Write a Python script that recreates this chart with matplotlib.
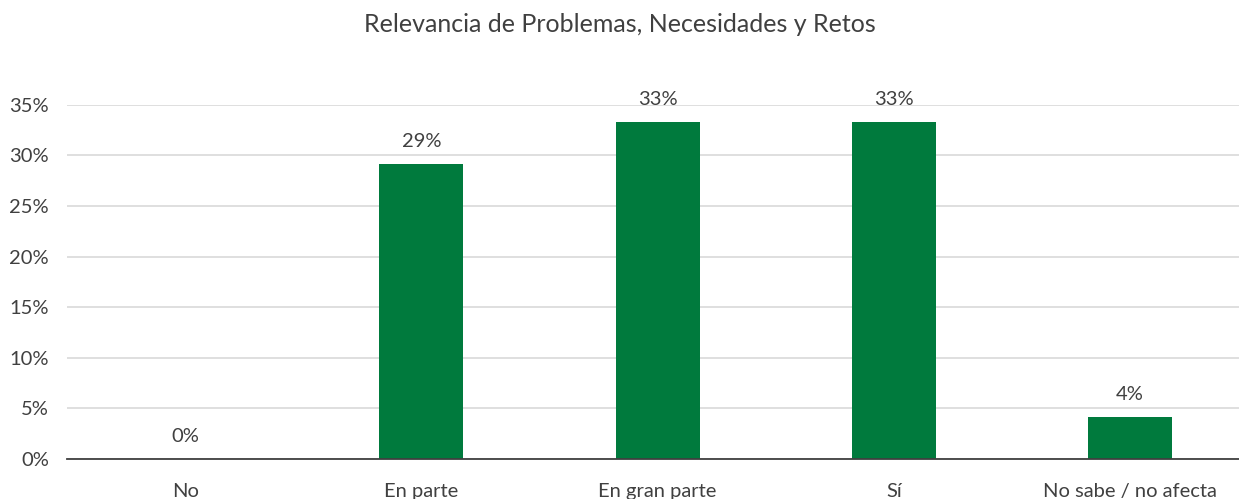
import matplotlib
matplotlib.use("Agg")
import matplotlib.pyplot as plt
from matplotlib.ticker import FuncFormatter

categories = ["No", "En parte", "En gran parte", "Sí", "No sabe / no afecta"]
values = [0.0, 29.17, 33.33, 33.33, 4.17]
yticks = [0, 5, 10, 15, 20, 25, 30, 35]
title = "Relevancia de Problemas, Necesidades y Retos"

text_color = "#404040"
bar_color = "#007A3D"

plt.rcParams["font.family"] = ["Lato", "DejaVu Sans"]

fig = plt.figure(figsize=(12.39, 4.99), dpi=100)
ax = fig.add_axes([0.0541, 0.0802, 0.9534, 0.7098])

x = list(range(len(categories)))
bars = ax.bar(x, values, width=0.355, color=bar_color, zorder=3)

for xi, v in zip(x, values):
    ax.annotate(f"{v:.0f}%", (xi, v), xytext=(0, 10), textcoords="offset points",
                ha="center", va="bottom", fontsize=14.5, color=text_color)

ax.set_xlim(-0.5, len(categories) - 0.5)
ax.set_ylim(0, 35)
ax.set_yticks(yticks)
ax.yaxis.set_major_formatter(FuncFormatter(lambda v, p: f"{v:.0f}%"))
ax.set_xticks(x)
ax.set_xticklabels(categories)
ax.tick_params(axis="x", length=0, pad=17, labelsize=14.5, colors=text_color)
ax.tick_params(axis="y", length=0, pad=13, labelsize=14.5, colors=text_color)

ax.grid(axis="y", color="#d9d9d9", linewidth=1.2, zorder=0)
for s in ["top", "right", "left"]:
    ax.spines[s].set_visible(False)
ax.spines["bottom"].set_color(text_color)
ax.spines["bottom"].set_linewidth(1.3)
ax.spines["bottom"].set_zorder(4)

fig.text(0.5, 0.95, title, ha="center", va="center", fontsize=18, color=text_color)

fig.savefig("out.png", dpi=100)
